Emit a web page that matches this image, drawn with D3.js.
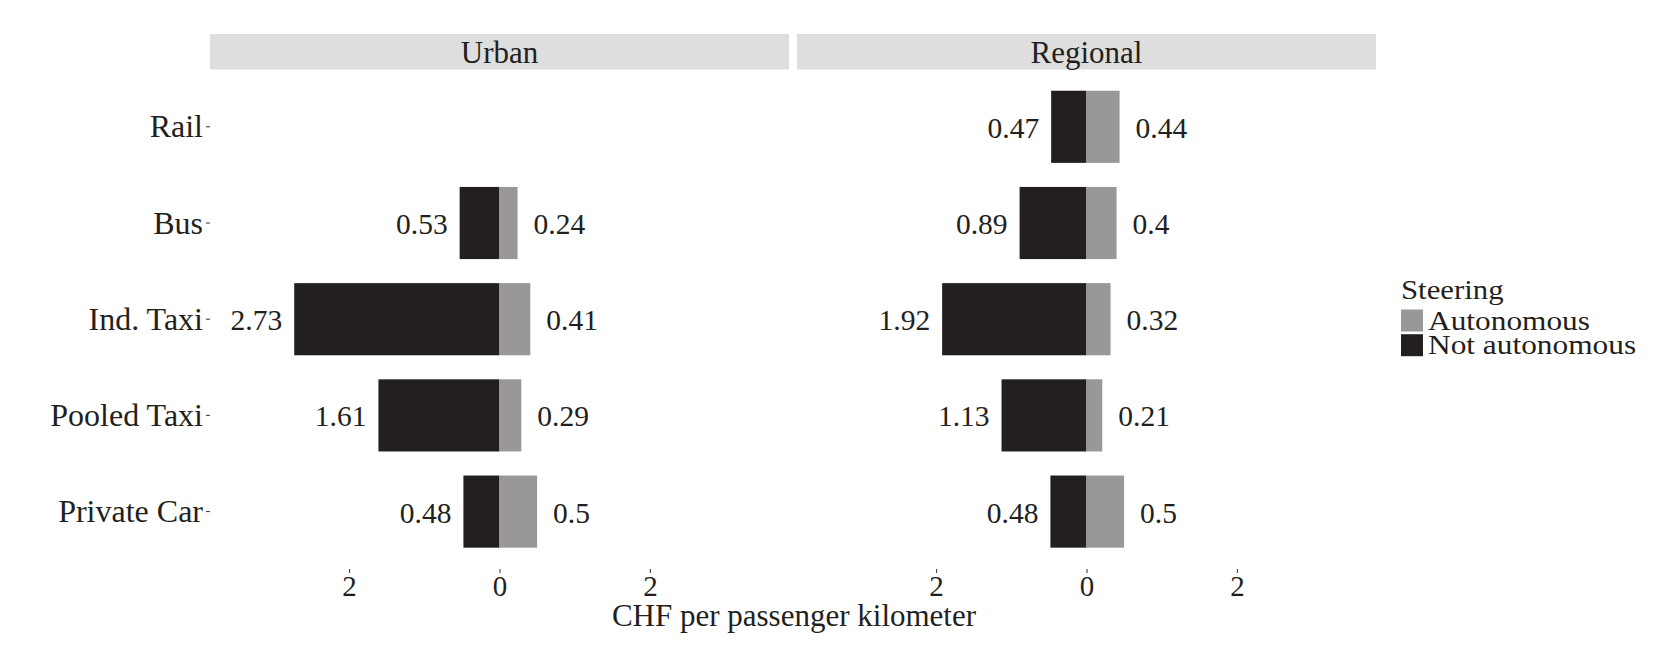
<!DOCTYPE html>
<html>
<head>
<meta charset="utf-8">
<script src="https://cdn.jsdelivr.net/npm/d3@7"></script>
<style>
  body { margin: 0; background: white; }
  text { font-family: "Liberation Serif", "DejaVu Serif", serif; fill: #231f20; }
</style>
</head>
<body>
<svg id="chart" width="1676" height="645"></svg>
<script>

// data
var modes = ["Rail", "Bus", "Ind. Taxi", "Pooled Taxi", "Private Car"];
var areas = ["Urban", "Regional"];
var steering = ["Autonomous", "Not autonomous"];

// CHF per passenger kilometer, null = no data
var urbanNotAuto = [null, 0.53, 2.73, 1.61, 0.48];
var urbanAuto    = [null, 0.24, 0.41, 0.29, 0.5];
var regionalNotAuto = [0.47, 0.89, 1.92, 1.13, 0.48];
var regionalAuto    = [0.44, 0.4, 0.32, 0.21, 0.5];

var xTicks = [-2, 0, 2];

var color = d3.scaleOrdinal()
    .domain(steering)
    .range(["#999797", "#231f20"]);

var svg = d3.select("#chart");

var panels = [
    {area: areas[0], x0: 210, x1: 789, notAuto: urbanNotAuto, auto: urbanAuto},
    {area: areas[1], x0: 797, x1: 1376, notAuto: regionalNotAuto, auto: regionalAuto}
];

var yScale = d3.scaleBand()
    .domain(modes)
    .range([78.7, 559.7])
    .paddingInner(0.25)
    .paddingOuter(0.125);

var panelBottom = 569;

panels.forEach(function(p, pi){

    var xScale = d3.scaleLinear()
        .domain([-3.85, 3.85])
        .range([p.x0, p.x1]);

    // strip
    svg.append("rect")
        .attr("x", p.x0)
        .attr("y", 34)
        .attr("width", p.x1 - p.x0)
        .attr("height", 35.5)
        .attr("fill", "#dedede");

    svg.append("text")
        .attr("x", (p.x0 + p.x1) / 2)
        .attr("y", 62.5)
        .attr("text-anchor", "middle")
        .style("font-size", "31px")
        .text(p.area);

    var rows = modes.map(function(m, i){
        return {mode: m, notAuto: p.notAuto[i], auto: p.auto[i]};
    }).filter(function(d){ return d.notAuto != null; });

    var g = svg.append("g");

    // not autonomous to the left
    g.selectAll(".na")
        .data(rows)
        .enter()
        .append("rect")
        .attr("x", d => xScale(-d.notAuto))
        .attr("y", d => yScale(d.mode))
        .attr("width", d => xScale(0) - xScale(-d.notAuto))
        .attr("height", yScale.bandwidth())
        .attr("fill", color("Not autonomous"));

    // autonomous to the right
    g.selectAll(".au")
        .data(rows)
        .enter()
        .append("rect")
        .attr("x", xScale(0))
        .attr("y", d => yScale(d.mode))
        .attr("width", d => xScale(d.auto) - xScale(0))
        .attr("height", yScale.bandwidth())
        .attr("fill", color("Autonomous"));

    g.selectAll(".nalab")
        .data(rows)
        .enter()
        .append("text")
        .attr("x", d => xScale(-d.notAuto) - 12)
        .attr("y", d => yScale(d.mode) + yScale.bandwidth() / 2)
        .attr("dy", "0.37em")
        .attr("text-anchor", "end")
        .style("font-size", "29.5px")
        .text(d => String(d.notAuto));

    g.selectAll(".aulab")
        .data(rows)
        .enter()
        .append("text")
        .attr("x", d => xScale(d.auto) + 16)
        .attr("y", d => yScale(d.mode) + yScale.bandwidth() / 2)
        .attr("dy", "0.37em")
        .attr("text-anchor", "start")
        .style("font-size", "29.5px")
        .text(d => String(d.auto));

    // x axis
    var xAxis = d3.axisBottom(xScale)
        .tickValues(xTicks)
        .tickSize(4)
        .tickFormat(d => String(Math.abs(d)));

    var ax = svg.append("g")
        .attr("transform", "translate(0," + panelBottom + ")")
        .call(xAxis);
    ax.select(".domain").remove();
    ax.selectAll("line").attr("stroke", "#333").attr("stroke-width", 1);
    ax.selectAll("text")
        .attr("y", 6)
        .attr("dy", "0.71em")
        .style("font-size", "29px")
        .style("font-family", "Liberation Serif")
        .attr("fill", "#231f20");

    // y axis only on first panel
    if (pi == 0) {
        var yAxis = d3.axisLeft(yScale)
            .tickSize(4)
            .tickPadding(3);
        var ay = svg.append("g")
            .attr("transform", "translate(" + p.x0 + ",0)")
            .call(yAxis);
        ay.select(".domain").remove();
        ay.selectAll("line").attr("stroke", "#333").attr("stroke-width", 1);
        ay.selectAll("text")
            .attr("dy", "0.33em")
            .style("font-size", "32px")
            .style("font-family", "Liberation Serif")
            .attr("fill", "#231f20");
    }
});

// axis title
svg.append("text")
    .attr("x", 794)
    .attr("y", 626)
    .attr("text-anchor", "middle")
    .style("font-size", "31px")
    .text("CHF per passenger kilometer");

// legend, text a little wider than tall like the original
var legend = svg.append("g");

legend.append("text")
    .attr("transform", "translate(1401,299) scale(1.1,1)")
    .style("font-size", "28px")
    .text("Steering");

legend.selectAll(".key")
    .data(steering)
    .enter()
    .append("rect")
    .attr("x", 1401)
    .attr("y", (d, i) => 309.5 + i * 24.7)
    .attr("width", 22)
    .attr("height", 22)
    .attr("fill", d => color(d));

legend.selectAll(".keylab")
    .data(steering)
    .enter()
    .append("text")
    .attr("transform", (d, i) => "translate(1428," + (330 + i * 23.5) + ") scale(1.12,1)")
    .style("font-size", "28px")
    .text(d => d);

</script>
</body>
</html>
